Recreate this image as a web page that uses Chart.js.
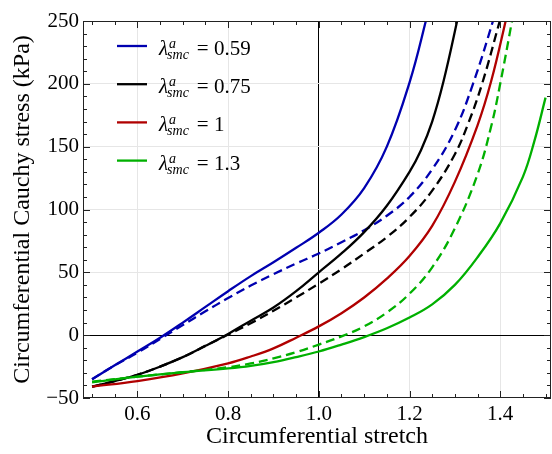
<!DOCTYPE html>
<html>
<head>
<meta charset="utf-8">
<script src="https://cdn.jsdelivr.net/npm/chart.js@4.4.1/dist/chart.umd.min.js"></script>
<style>
    html, body { margin: 0; padding: 0; background: #fff; }
</style>
</head>
<body>
<canvas id="stressChart" width="552" height="454"></canvas>
<script>
// activation levels shown in the legend
const lambdaLabels = ['0.59', '0.75', '1', '1.3'];

// x ticks / y ticks
const xTickValues = [0.6, 0.8, 1.0, 1.2, 1.4];
const xTickLabels = ['0.6', '0.8', '1.0', '1.2', '1.4'];
const yTickValues = [-50, 0, 50, 100, 150, 200, 250];
const yTickLabels = ['\u221250', '0', '50', '100', '150', '200', '250'];

// lambda = 0.59
const blueSolidX = [0.5, 0.55, 0.6, 0.65, 0.7, 0.75, 0.8, 0.85, 0.9, 0.95, 1.0, 1.05, 1.1, 1.15, 1.2, 1.236, 1.25];
const blueSolidY = [-35, -24, -13, -2, 10, 22.5, 35, 47, 58, 69.5, 81.5, 96, 117, 150, 201, 250, 272];
const blueDashX = [0.5, 0.55, 0.6, 0.65, 0.7, 0.75, 0.8, 0.85, 0.9, 0.95, 1.0, 1.05, 1.1, 1.15, 1.2, 1.25, 1.3, 1.34, 1.384, 1.4];
const blueDashY = [-35, -24, -14, -3, 8, 19, 29.5, 39.5, 48.5, 57, 65, 74, 83.5, 95, 110, 132, 163, 200, 250, 272];

// lambda = 0.75
const blackSolidX = [0.5, 0.55, 0.6, 0.65, 0.7, 0.75, 0.8, 0.85, 0.9, 0.95, 1.0, 1.05, 1.1, 1.15, 1.2, 1.225, 1.25, 1.275, 1.305, 1.315];
const blackSolidY = [-41, -36.5, -31.5, -25, -17.5, -8.5, 1, 11.5, 22, 35, 50, 65, 82, 103, 130, 147, 170, 202, 250, 268];
const blackDashX = [0.5, 0.55, 0.6, 0.65, 0.7, 0.75, 0.8, 0.85, 0.9, 0.95, 1.0, 1.05, 1.1, 1.15, 1.2, 1.25, 1.3, 1.33, 1.36, 1.399, 1.41];
const blackDashY = [-41, -36.5, -31.5, -25, -17.5, -8.5, 0.5, 9.5, 19.5, 30, 41, 52.5, 65, 78, 94, 115, 144, 169, 200, 250, 265];

// lambda = 1
const redSolidX = [0.5, 0.6, 0.7, 0.8, 0.85, 0.9, 0.95, 1.0, 1.05, 1.1, 1.15, 1.2, 1.25, 1.3, 1.35, 1.38, 1.412, 1.42];
const redSolidY = [-41, -36.5, -30.5, -22.5, -17, -10.5, -2, 7, 17.5, 30, 45, 63, 87, 122, 167, 202, 250, 264];

// lambda = 1.3
const greenDashX = [0.5, 0.6, 0.7, 0.8, 0.85, 0.9, 0.95, 1.0, 1.05, 1.1, 1.15, 1.2, 1.25, 1.3, 1.35, 1.38, 1.4, 1.426, 1.435];
const greenDashY = [-37, -33, -29.5, -25.5, -22.5, -18.5, -13.5, -7.5, -1, 7, 18, 33, 54, 85, 128, 166, 200, 250, 268];
const greenSolidX = [0.5, 0.6, 0.7, 0.8, 0.85, 0.9, 0.95, 1.0, 1.05, 1.1, 1.15, 1.2, 1.25, 1.3, 1.35, 1.4, 1.45, 1.475, 1.5];
const greenSolidY = [-37.5, -33, -29.5, -26.5, -24.5, -21.5, -17.5, -13, -7.5, -1.5, 5.5, 14, 24.5, 40, 62, 89, 126, 154, 189];

const BLUE = '#0000b0';
const BLACK = '#000000';
const RED = '#b00000';
const GREEN = '#00b000';
const SERIF = "'Liberation Serif', 'DejaVu Serif', serif";

function toPoints(xs, ys) {
    return xs.map((x, i) => ({ x: x, y: ys[i] }));
}

function curve(xs, ys, color, dashed) {
    return {
        data: toPoints(xs, ys),
        borderColor: color,
        borderWidth: 2.3,
        borderDash: dashed ? [9, 5] : [],
        pointRadius: 0,
        fill: false,
        tension: 0.4
    };
}

// frame with inward ticks on all four sides
const framePlugin = {
    id: 'frame',
    afterDatasetsDraw(chart) {
        const ctx = chart.ctx;
        const a = chart.chartArea;
        const xs = chart.scales.x;
        const ys = chart.scales.y;
        ctx.save();
        ctx.strokeStyle = '#222';
        ctx.lineWidth = 1;
        ctx.strokeRect(a.left + 0.5, a.top + 0.5, a.right - a.left - 1, a.bottom - a.top - 1);
        ctx.beginPath();
        for (let i = 0; i <= 20; i++) {
            const v = 0.5 + i * 0.05;
            const major = Math.abs(v * 5 - Math.round(v * 5)) < 1e-6;
            const len = major ? 7 : 4;
            const px = Math.round(xs.getPixelForValue(v)) + 0.5;
            if (px < a.left || px > a.right) continue;
            ctx.moveTo(px, a.bottom);
            ctx.lineTo(px, a.bottom - len);
            ctx.moveTo(px, a.top);
            ctx.lineTo(px, a.top + len);
        }
        for (let v = -50; v <= 250; v += 10) {
            const len = v % 50 === 0 ? 7 : 4;
            const py = Math.round(ys.getPixelForValue(v)) + 0.5;
            ctx.moveTo(a.left, py);
            ctx.lineTo(a.left + len, py);
            ctx.moveTo(a.right, py);
            ctx.lineTo(a.right - len, py);
        }
        ctx.stroke();
        ctx.restore();
    }
};

// legend with lambda^a_smc labels
const legendPlugin = {
    id: 'lambdaLegend',
    afterDraw(chart) {
        const ctx = chart.ctx;
        const colors = [BLUE, BLACK, RED, GREEN];
        ctx.save();
        for (let i = 0; i < lambdaLabels.length; i++) {
            const y = 46 + i * 38.2;
            ctx.strokeStyle = colors[i];
            ctx.lineWidth = 2.3;
            ctx.beginPath();
            ctx.moveTo(117, y);
            ctx.lineTo(147, y);
            ctx.stroke();

            ctx.fillStyle = '#000';
            ctx.textBaseline = 'alphabetic';
            ctx.textAlign = 'left';
            let x = 159;
            ctx.font = 'italic 21px ' + SERIF;
            ctx.fillText('\u03bb', x, y + 9);
            x += ctx.measureText('\u03bb').width;
            ctx.font = 'italic 14px ' + SERIF;
            ctx.fillText('a', x + 1, y + 2);
            ctx.fillText('smc', x - 1, y + 13);
            x += ctx.measureText('smc').width;
            ctx.font = '21px ' + SERIF;
            ctx.fillText('= ' + lambdaLabels[i], x + 7, y + 9);
        }
        ctx.restore();
    }
};

const ctx = document.getElementById('stressChart').getContext('2d');
const chart = new Chart(ctx, {
    type: 'line',
    data: {
        datasets: [
            curve(greenDashX, greenDashY, GREEN, true),
            curve(greenSolidX, greenSolidY, GREEN, false),
            curve(redSolidX, redSolidY, RED, false),
            curve(blackDashX, blackDashY, BLACK, true),
            curve(blackSolidX, blackSolidY, BLACK, false),
            curve(blueDashX, blueDashY, BLUE, true),
            curve(blueSolidX, blueSolidY, BLUE, false)
        ]
    },
    options: {
        responsive: false,
        animation: false,
        devicePixelRatio: 1,
        layout: { padding: { top: 21, right: 1, left: 0, bottom: 0 } },
        plugins: {
            legend: { display: false },
            tooltip: { enabled: false }
        },
        scales: {
            x: {
                type: 'linear',
                min: 0.48,
                max: 1.512,
                afterBuildTicks: function (scale) {
                    scale.ticks = xTickValues.map(v => ({ value: v }));
                },
                afterFit: function (scale) {
                    scale.height = 56;
                },
                border: { display: false },
                grid: {
                    drawTicks: false,
                    color: function (c) {
                        return c.tick && c.tick.value === 1 ? '#000' : '#e6e6e6';
                    }
                },
                ticks: {
                    padding: 4,
                    color: '#000',
                    font: { family: SERIF, size: 21 },
                    callback: function (value, index) {
                        return xTickLabels[index];
                    }
                },
                title: {
                    display: true,
                    text: 'Circumferential stretch',
                    color: '#000',
                    font: { family: SERIF, size: 24 },
                    padding: { top: 0, bottom: 3 }
                }
            },
            y: {
                type: 'linear',
                min: -50,
                max: 250,
                afterBuildTicks: function (scale) {
                    scale.ticks = yTickValues.map(v => ({ value: v }));
                },
                afterFit: function (scale) {
                    scale.width = 83;
                },
                border: { display: false },
                grid: {
                    drawTicks: false,
                    color: function (c) {
                        if (!c.tick) return '#e6e6e6';
                        if (c.tick.value === 0) return '#000';
                        if (c.tick.value === -50 || c.tick.value === 250) return 'rgba(0,0,0,0)';
                        return '#e6e6e6';
                    }
                },
                ticks: {
                    padding: 4,
                    color: '#000',
                    font: { family: SERIF, size: 21 },
                    callback: function (value, index) {
                        return yTickLabels[index];
                    }
                },
                title: {
                    display: true,
                    text: 'Circumferential Cauchy stress (kPa)',
                    color: '#000',
                    font: { family: SERIF, size: 24 },
                    padding: { top: 8, bottom: 0 }
                }
            }
        }
    },
    plugins: [framePlugin, legendPlugin]
});
</script>
</body>
</html>
